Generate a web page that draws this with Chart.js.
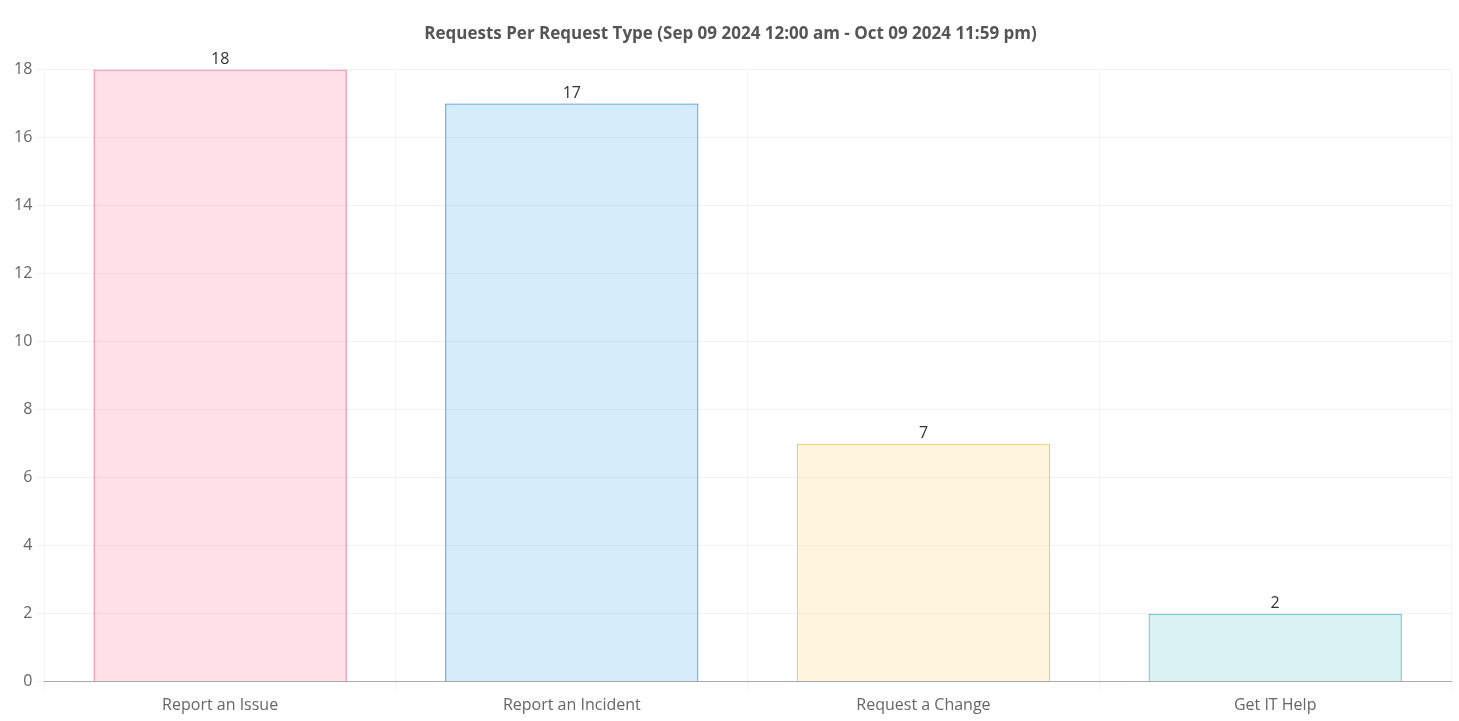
<!DOCTYPE html>
<html>
<head>
<meta charset="utf-8">
<script src="https://cdn.jsdelivr.net/npm/chart.js@4.4.1/dist/chart.umd.min.js"></script>
<style>
  html, body { margin: 0; padding: 0; background: #fff; }
  #wrap { position: relative; width: 1459px; height: 721px; }
</style>
</head>
<body>
<div id="wrap"><canvas id="requestTypeChart"></canvas></div>
<script>
    // values
    var requestTypes = ['Report an Issue', 'Report an Incident', 'Request a Change', 'Get IT Help'];
    var requestCounts = [18, 17, 7, 2];
    var fillColors = ['rgba(255, 99, 132, 0.2)', 'rgba(54, 162, 235, 0.2)', 'rgba(255, 206, 86, 0.2)', 'rgba(75, 192, 192, 0.2)'];
    var lineColors = ['rgba(235, 90, 135, 1)', 'rgba(40, 140, 210, 1)', 'rgba(245, 200, 80, 1)', 'rgba(70, 185, 190, 1)'];

    Chart.defaults.font.family = '"Open Sans", "Noto Sans", sans-serif';
    Chart.defaults.color = '#666';

    // small stand-in for the datalabels plugin: value above each bar
    var barValues = {
        id: 'barValues',
        afterDatasetsDraw: function (chart) {
            var c = chart.ctx;
            c.save();
            c.font = '16px "Open Sans", "Noto Sans", sans-serif';
            c.fillStyle = '#333';
            c.textAlign = 'center';
            c.textBaseline = 'bottom';
            chart.getDatasetMeta(0).data.forEach(function (bar, i) {
                c.fillText(chart.data.datasets[0].data[i], bar.x, bar.y - 2);
            });
            c.restore();
        }
    };

    var ctx = document.getElementById('requestTypeChart').getContext('2d');
    var requestTypeChart = new Chart(ctx, {
        type: 'bar',
        data: {
            labels: requestTypes,
            datasets: [{
                label: 'Requests',
                data: requestCounts,
                backgroundColor: fillColors,
                borderColor: lineColors,
                borderWidth: 1
            }]
        },
        options: {
            responsive: true,
            maintainAspectRatio: false,
            animation: false,
            layout: {
                padding: { left: 10, right: 8, top: 12, bottom: 2 }
            },
            plugins: {
                legend: { display: false },
                tooltip: { enabled: false },
                title: {
                    display: true,
                    text: 'Requests Per Request Type (Sep 09 2024 12:00 am - Oct 09 2024 11:59 pm)',
                    color: '#555',
                    font: { size: 17, weight: 'bold' },
                    padding: { top: 12, bottom: 25 }
                }
            },
            scales: {
                x: {
                    grid: { color: 'rgba(0, 0, 0, 0.04)', tickLength: 10 },
                    border: { color: '#aaa' },
                    ticks: { font: { size: 16 }, color: '#666', padding: 4 }
                },
                y: {
                    beginAtZero: true,
                    grid: { color: 'rgba(0, 0, 0, 0.05)', tickLength: 8 },
                    border: { display: false },
                    ticks: { stepSize: 2, font: { size: 16 }, color: '#666', padding: 4 }
                }
            }
        },
        plugins: [barValues]
    });
</script>
</body>
</html>
